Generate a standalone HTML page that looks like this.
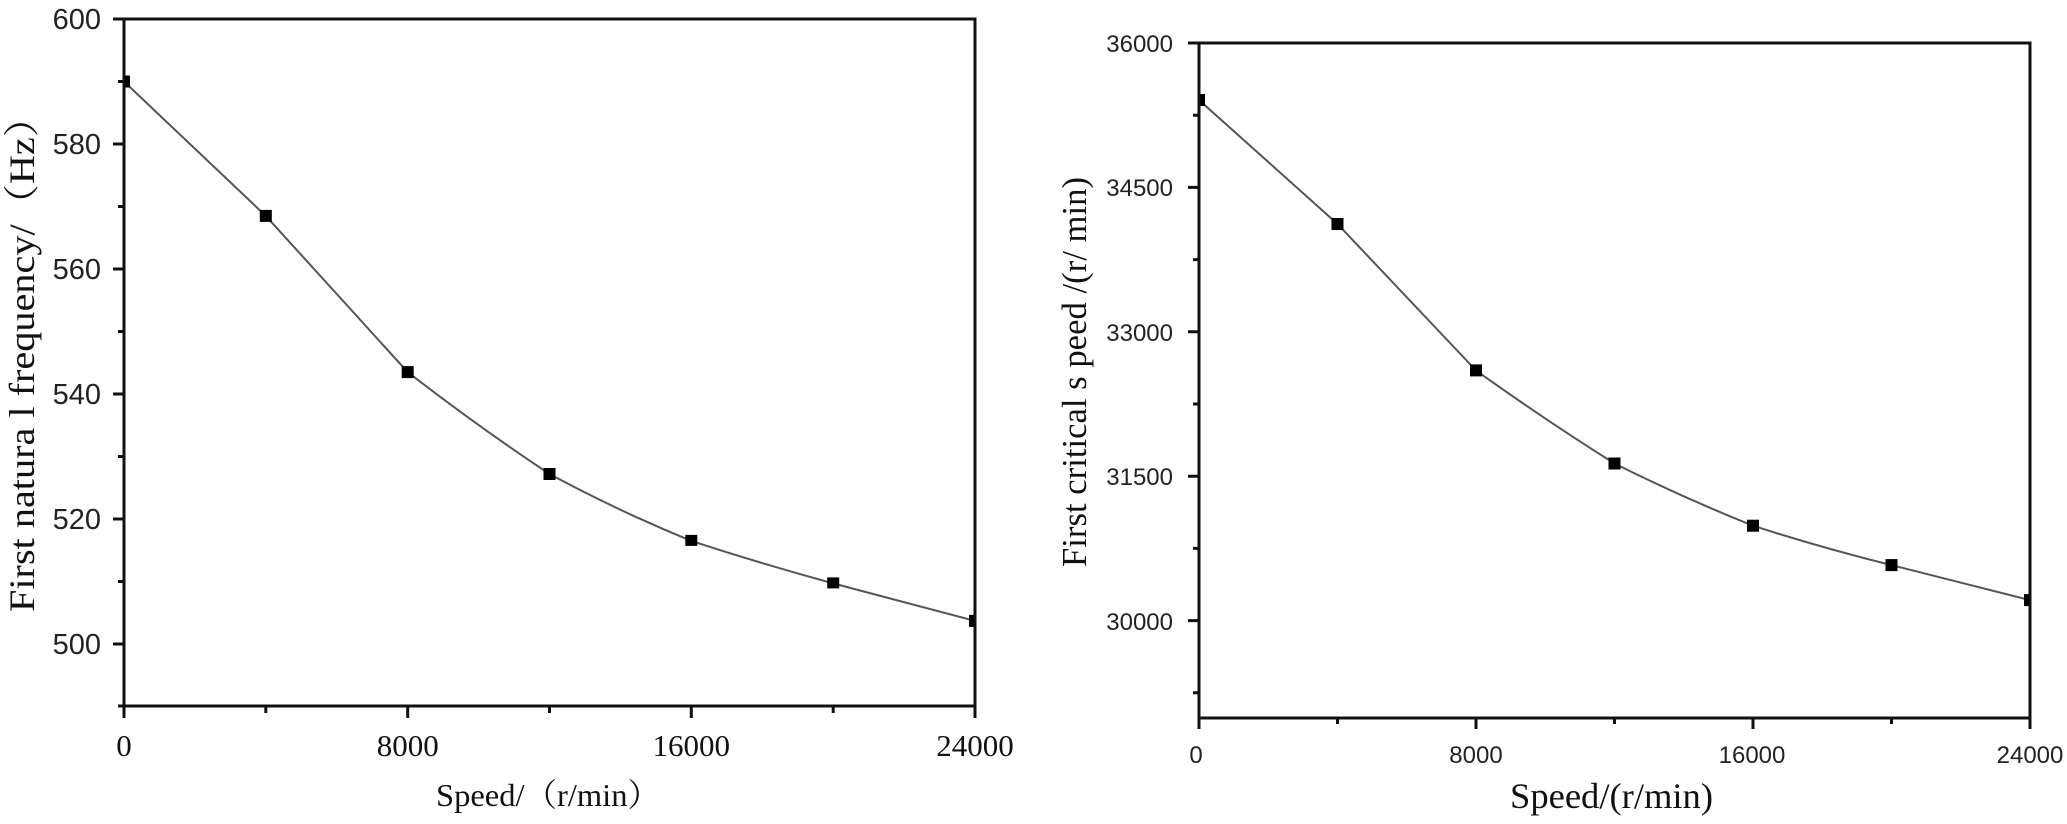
<!DOCTYPE html>
<html>
<head>
<meta charset="utf-8">
<style>
html,body{margin:0;padding:0;background:#fff;}
svg{display:block;}
.ylab{font-family:"Liberation Sans",sans-serif;fill:#222;}
.ser{font-family:"Liberation Serif","Noto Serif CJK SC",serif;fill:#111;}
</style>
</head>
<body>
<svg width="2067" height="824" viewBox="0 0 2067 824" xmlns="http://www.w3.org/2000/svg">
<defs>
<clipPath id="c1"><rect x="124" y="19" width="851" height="687"/></clipPath>
<clipPath id="c2"><rect x="1199" y="43" width="831" height="675"/></clipPath>
</defs>
<rect width="2067" height="824" fill="#fff"/>

<!-- ============ LEFT CHART ============ -->
<g clip-path="url(#c1)">
<path d="M124,81.5 L265.8,215.9 L407.7,372.1 Q478.6,427 549.5,474 Q620.4,512 691.3,540.9 Q762.2,564 833.2,583.4 L975,620.9" fill="none" stroke="#555" stroke-width="2"/>
<g fill="#000">
<rect x="118" y="75.5" width="12" height="12"/>
<rect x="259.8" y="209.9" width="12" height="12"/>
<rect x="401.7" y="366.1" width="12" height="12"/>
<rect x="543.5" y="468" width="12" height="12"/>
<rect x="685.3" y="534.9" width="12" height="11"/>
<rect x="827.2" y="577.4" width="12" height="11"/>
<rect x="969" y="614.9" width="12" height="12"/>
</g>
</g>
<g stroke="#111" stroke-width="3" fill="none">
<path d="M124,19 H975 V706 H124 Z"/>
<path d="M113,19 H124 M113,144 H124 M113,269 H124 M113,394 H124 M113,519 H124 M113,644 H124"/>
<path d="M118,81.5 H124 M118,206.5 H124 M118,331.5 H124 M118,456.5 H124 M118,581.5 H124 M118,706 H124"/>
<path d="M124,706 V718 M407.7,706 V718 M691.3,706 V718 M975,706 V718"/>
<path d="M265.8,706 V713 M549.5,706 V713 M833.2,706 V713"/>
</g>
<g class="ylab" font-size="29" text-anchor="end">
<text x="101" y="29">600</text>
<text x="101" y="154">580</text>
<text x="101" y="279">560</text>
<text x="101" y="404">540</text>
<text x="101" y="529">520</text>
<text x="101" y="654">500</text>
</g>
<g class="ser" font-size="31" text-anchor="middle">
<text x="124" y="756">0</text>
<text x="407.7" y="756">8000</text>
<text x="691.3" y="756">16000</text>
<text x="975" y="756">24000</text>
</g>
<text class="ser" x="436" y="806" font-size="32" textLength="224" lengthAdjust="spacingAndGlyphs">Speed/（r/min）</text>
<text class="ser" transform="translate(34,612) rotate(-90)" font-size="36" textLength="515" lengthAdjust="spacingAndGlyphs">First natura l frequency/（Hz）</text>

<!-- ============ RIGHT CHART ============ -->
<g clip-path="url(#c2)">
<path d="M1199,100 L1337.5,224 L1476,370.4 Q1545.2,420 1614.5,463.5 Q1683.7,498 1753,525.7 Q1822.2,548 1891.5,565.1 L2030,600.1" fill="none" stroke="#555" stroke-width="2"/>
<g fill="#000">
<rect x="1193" y="94" width="12" height="12"/>
<rect x="1331.5" y="218" width="12" height="12"/>
<rect x="1470" y="364.4" width="12" height="12"/>
<rect x="1608.5" y="457.5" width="12" height="12"/>
<rect x="1747" y="519.7" width="12" height="12"/>
<rect x="1885.5" y="559.1" width="12" height="12"/>
<rect x="2024" y="594.1" width="12" height="12"/>
</g>
</g>
<g stroke="#111" stroke-width="3" fill="none">
<path d="M1199,43 H2030 V718 H1199 Z"/>
<path d="M1188,43 H1199 M1188,187.4 H1199 M1188,331.8 H1199 M1188,476.2 H1199 M1188,620.6 H1199"/>
<path d="M1193,115.2 H1199 M1193,259.6 H1199 M1193,404 H1199 M1193,548.4 H1199 M1193,692.8 H1199"/>
<path d="M1199,718 V729 M1476,718 V729 M1753,718 V729 M2030,718 V729"/>
<path d="M1337.5,718 V724 M1614.5,718 V724 M1891.5,718 V724"/>
</g>
<g class="ylab" font-size="24" text-anchor="end">
<text x="1173" y="52">36000</text>
<text x="1173" y="196">34500</text>
<text x="1173" y="341">33000</text>
<text x="1173" y="485">31500</text>
<text x="1173" y="630">30000</text>
</g>
<g class="ylab" font-size="24" text-anchor="middle">
<text x="1196" y="763">0</text>
<text x="1476" y="763">8000</text>
<text x="1752" y="763">16000</text>
<text x="2030" y="763">24000</text>
</g>
<text class="ser" x="1510" y="808" font-size="36" textLength="203" lengthAdjust="spacingAndGlyphs">Speed/(r/min)</text>
<text class="ser" transform="translate(1086,567) rotate(-90)" font-size="35" textLength="390" lengthAdjust="spacingAndGlyphs">First critical s peed /(r/ min)</text>
</svg>
</body>
</html>
